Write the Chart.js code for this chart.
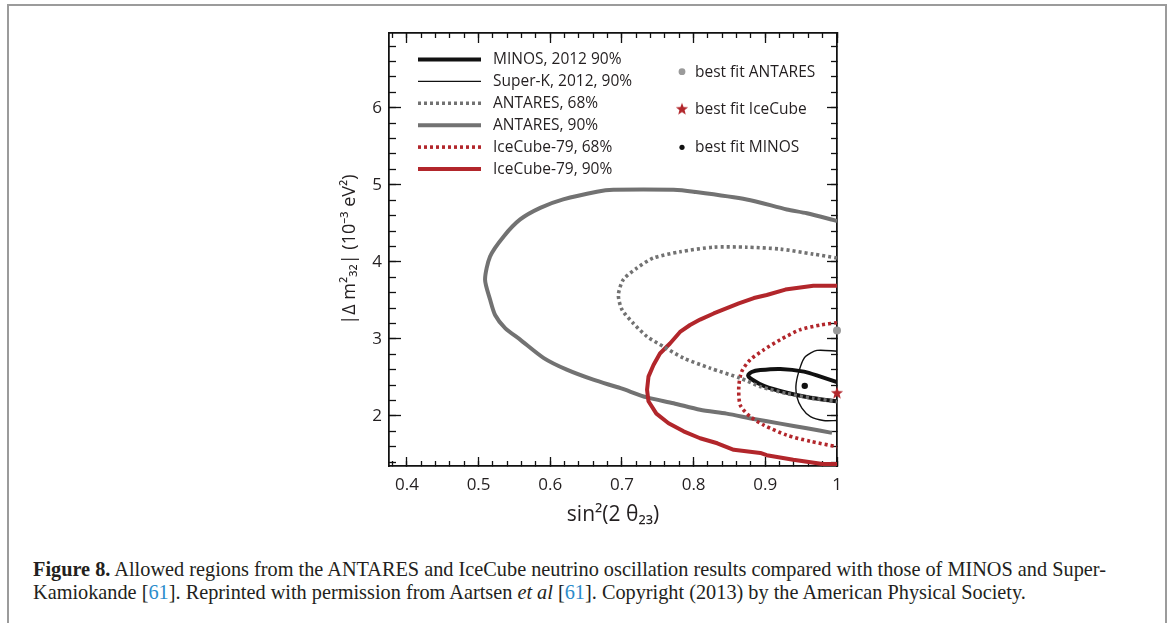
<!DOCTYPE html>
<html><head><meta charset="utf-8">
<script src="https://cdn.jsdelivr.net/npm/chart.js@4.4.1/dist/chart.umd.min.js"></script>
<style>
html,body{margin:0;padding:0;background:#fff;width:1171px;height:623px;overflow:hidden;}
#frame{position:absolute;left:7px;top:4px;width:1156px;height:700px;border:2px solid #9b9b9b;border-bottom:none;}
#wrap{position:absolute;left:0;top:0;width:1171px;height:540px;}
#caption{position:absolute;left:33px;top:558px;font-family:"Liberation Serif",serif;font-size:20.3px;line-height:23px;color:#231f20;white-space:nowrap;}
#caption .ref{color:#2b8ccb;}
</style></head><body>
<div id="frame"></div>
<div id="wrap"><canvas id="c" width="1171" height="540"></canvas></div>
<div id="caption"><b>Figure 8.</b> Allowed regions from the ANTARES and IceCube neutrino oscillation results compared with those of MINOS and Super-<br>Kamiokande [<span class="ref">61</span>]. Reprinted with permission from Aartsen <i>et al</i> [<span class="ref">61</span>]. Copyright (2013) by the American Physical Society.</div>
<script>
// ---------------- data ----------------
const seriesNames = ['MINOS, 2012 90%', 'Super-K, 2012, 90%', 'ANTARES, 68%', 'ANTARES, 90%', 'IceCube-79, 68%', 'IceCube-79, 90%'];

const minosX = [1.0, 0.977, 0.954, 0.921, 0.893, 0.881, 0.876, 0.882, 0.898, 0.930, 0.963, 0.991, 1.0];
const minosY = [2.44, 2.51, 2.575, 2.61, 2.595, 2.57, 2.525, 2.47, 2.39, 2.30, 2.235, 2.20, 2.19];

const superKX = [1.0, 0.972, 0.956, 0.949, 0.943, 0.944, 0.951, 0.963, 0.981, 1.0];
const superKY = [2.84, 2.85, 2.77, 2.64, 2.42, 2.25, 2.10, 1.99, 1.94, 1.94];

const antares68X = [1.0, 0.967, 0.921, 0.874, 0.828, 0.781, 0.744, 0.721, 0.702, 0.695, 0.700, 0.716, 0.735, 0.758, 0.786, 0.823, 0.865, 0.893, 0.930, 0.967, 1.0];
const antares68Y = [4.05, 4.10, 4.165, 4.19, 4.19, 4.13, 4.05, 3.92, 3.77, 3.57, 3.38, 3.20, 3.03, 2.90, 2.75, 2.62, 2.49, 2.38, 2.29, 2.23, 2.185];

const antares90X = [1.0, 0.958, 0.930, 0.874, 0.800, 0.772, 0.688, 0.665, 0.618, 0.586, 0.558, 0.535, 0.516, 0.509, 0.516, 0.523, 0.537, 0.558, 0.591, 0.623, 0.660, 0.698, 0.735, 0.772, 0.809, 0.846, 0.884, 0.921, 0.958, 0.993];
const antares90Y = [4.53, 4.63, 4.68, 4.81, 4.91, 4.935, 4.935, 4.91, 4.81, 4.70, 4.55, 4.33, 4.07, 3.77, 3.51, 3.31, 3.14, 2.99, 2.75, 2.60, 2.47, 2.36, 2.24, 2.165, 2.08, 2.03, 1.96, 1.90, 1.84, 1.78];

const icecube68X = [1.0, 0.977, 0.949, 0.921, 0.898, 0.879, 0.867, 0.863, 0.865, 0.879, 0.898, 0.930, 0.963, 1.0];
const icecube68Y = [3.21, 3.18, 3.12, 2.99, 2.86, 2.73, 2.575, 2.38, 2.14, 1.99, 1.88, 1.75, 1.67, 1.60];

const icecube90X = [1.0, 0.967, 0.928, 0.902, 0.884, 0.863, 0.828, 0.809, 0.795, 0.781, 0.767, 0.753, 0.744, 0.737, 0.735, 0.737, 0.748, 0.765, 0.786, 0.809, 0.833, 0.856, 0.893, 0.902, 0.939, 0.980, 1.0];
const icecube90Y = [3.69, 3.69, 3.64, 3.57, 3.53, 3.46, 3.33, 3.25, 3.18, 3.09, 2.94, 2.81, 2.66, 2.51, 2.34, 2.19, 2.03, 1.905, 1.80, 1.71, 1.645, 1.56, 1.52, 1.49, 1.43, 1.375, 1.375];

const bestFitNames = ['best fit ANTARES', 'best fit IceCube', 'best fit MINOS'];
const bestFitX = [1.0, 1.0, 0.955];
const bestFitY = [3.11, 2.30, 2.39];

const xTickValues = [0.4, 0.5, 0.6, 0.7, 0.8, 0.9, 1.0];
const xTickLabels = ['0.4', '0.5', '0.6', '0.7', '0.8', '0.9', '1'];
const yTickValues = [2, 3, 4, 5, 6];
const yTickLabels = ['2', '3', '4', '5', '6'];
const xMinorStep = 0.02;
const yMinorStep = 0.2;
const xTitle = 'sin²(2 θ₂₃)';
const yTitle = '|Δ m²₃₂| (10⁻³ eV²)';

const X_MIN = 0.375, X_MAX = 1.0, Y_MIN = 1.35, Y_MAX = 6.97;

// ---------------- styles ----------------
const GREY = '#727272', RED = '#b2262b', BLACK = '#111111';
const FONT = '"Open Sans", "Noto Sans", sans-serif';
const TXT = '#231f20';

function pts(xs, ys) { return xs.map((x, i) => ({x: x, y: ys[i]})); }

// filled star image for IceCube best fit
const star = document.createElement('canvas');
star.width = 14; star.height = 14;
(function () {
  const g = star.getContext('2d');
  g.beginPath();
  for (let k = 0; k < 10; k++) {
    const r = k % 2 === 0 ? 6.4 : 2.7;
    const a = -Math.PI / 2 + k * Math.PI / 5;
    const px = 7 + r * Math.cos(a), py = 7.5 + r * Math.sin(a);
    if (k === 0) g.moveTo(px, py); else g.lineTo(px, py);
  }
  g.closePath();
  g.fillStyle = RED;
  g.fill();
})();

const lineStyles = [
  {color: BLACK, width: 4, dash: []},
  {color: BLACK, width: 1.4, dash: []},
  {color: GREY, width: 3.6, dash: [3, 3]},
  {color: GREY, width: 4, dash: []},
  {color: RED, width: 3.6, dash: [3, 3]},
  {color: RED, width: 4, dash: []}
];
const lineData = [
  pts(minosX, minosY), pts(superKX, superKY), pts(antares68X, antares68Y),
  pts(antares90X, antares90Y), pts(icecube68X, icecube68Y), pts(icecube90X, icecube90Y)
];

const datasets = [];
// best-fit markers (on top)
const markerStyles = [
  {style: 'circle', radius: 4, color: '#9a9a9a'},
  {style: star, radius: 6, color: RED},
  {style: 'circle', radius: 3.2, color: BLACK}
];
bestFitNames.forEach((n, i) => {
  datasets.push({
    label: n, data: [{x: bestFitX[i], y: bestFitY[i]}], showLine: false,
    pointStyle: markerStyles[i].style, pointRadius: markerStyles[i].radius,
    backgroundColor: markerStyles[i].color, borderColor: markerStyles[i].color, borderWidth: 0,
    clip: false, order: 0, xAxisID: 'x', yAxisID: 'y'
  });
});
const orderMap = {0: 3, 1: 2, 2: 1, 3: 6, 4: 4, 5: 5};
seriesNames.forEach((n, i) => {
  datasets.push({
    label: n, data: lineData[i], showLine: true, pointRadius: 0,
    borderColor: lineStyles[i].color, borderWidth: lineStyles[i].width,
    borderDash: lineStyles[i].dash, borderCapStyle: 'butt', borderJoinStyle: 'round',
    tension: i === 5 ? 0 : 0.25, fill: false, order: orderMap[i],
    xAxisID: 'x', yAxisID: 'y'
  });
});

// ---------------- axes ----------------
function setTicks(vals) { return s => { s.ticks = vals.map(v => ({value: v})); }; }
function labelOf(vals, labels) {
  return v => { const i = vals.findIndex(t => Math.abs(t - v) < 1e-9); return i >= 0 ? labels[i] : ''; };
}
const border = {color: BLACK, width: 1.5};
function gridOpt(len) { return {drawOnChartArea: false, drawTicks: true, tickLength: -len, tickWidth: 1.3, tickColor: BLACK}; }
const tickFont = {family: FONT, size: 17};

const scales = {
  x: {
    type: 'linear', axis: 'x', position: 'bottom', min: X_MIN, max: X_MAX, weight: 1,
    afterBuildTicks: setTicks(xTickValues),
    ticks: {autoSkip: false, maxRotation: 0, padding: 18, font: tickFont, color: TXT, callback: labelOf(xTickValues, xTickLabels)},
    grid: gridOpt(9), border: border,
    title: {display: true, text: xTitle, font: {family: FONT, size: 21}, color: TXT, padding: 0},
    afterFit: s => { s.height = 62; }
  },
  xMinor: {
    type: 'linear', axis: 'x', position: 'bottom', min: X_MIN, max: X_MAX, weight: 0,
    ticks: {display: false, stepSize: xMinorStep, includeBounds: false, autoSkip: false},
    grid: gridOpt(5), border: border, afterFit: s => { s.height = 0; }
  },
  xTop: {
    type: 'linear', axis: 'x', position: 'top', min: X_MIN, max: X_MAX, weight: 0,
    afterBuildTicks: setTicks(xTickValues),
    ticks: {display: false, autoSkip: false},
    grid: gridOpt(10), border: border, afterFit: s => { s.height = 0; }
  },
  xTopMinor: {
    type: 'linear', axis: 'x', position: 'top', min: X_MIN, max: X_MAX, weight: 0,
    ticks: {display: false, stepSize: xMinorStep, includeBounds: false, autoSkip: false},
    grid: gridOpt(5), border: border, afterFit: s => { s.height = 0; }
  },
  y: {
    type: 'linear', axis: 'y', position: 'left', min: Y_MIN, max: Y_MAX, weight: 1,
    afterBuildTicks: setTicks(yTickValues),
    ticks: {autoSkip: false, padding: 19, font: tickFont, color: TXT, callback: labelOf(yTickValues, yTickLabels)},
    grid: gridOpt(12), border: border,
    title: {display: true, text: yTitle, font: {family: FONT, size: 18}, color: TXT, padding: 0},
    afterFit: s => { s.width = 50; }
  },
  yMinor: {
    type: 'linear', axis: 'y', position: 'left', min: Y_MIN, max: Y_MAX, weight: 0,
    ticks: {display: false, stepSize: yMinorStep, includeBounds: false, autoSkip: false},
    grid: gridOpt(7), border: border, afterFit: s => { s.width = 0; }
  },
  yRight: {
    type: 'linear', axis: 'y', position: 'right', min: Y_MIN, max: Y_MAX, weight: 0,
    afterBuildTicks: setTicks(yTickValues),
    ticks: {display: false, autoSkip: false},
    grid: gridOpt(10), border: border, afterFit: s => { s.width = 0; }
  },
  yRightMinor: {
    type: 'linear', axis: 'y', position: 'right', min: Y_MIN, max: Y_MAX, weight: 0,
    ticks: {display: false, stepSize: yMinorStep, includeBounds: false, autoSkip: false},
    grid: gridOpt(6), border: border, afterFit: s => { s.width = 0; }
  }
};

// ---------------- legend ----------------
const legendPlugin = {
  id: 'insideLegend',
  afterDraw(chart) {
    const ctx = chart.ctx, a = chart.chartArea;
    ctx.save();
    ctx.font = '15.5px ' + FONT;
    ctx.fillStyle = TXT;
    ctx.textBaseline = 'middle';
    ctx.textAlign = 'left';
    seriesNames.forEach((n, i) => {
      const y = a.top + 26.5 + i * 21.9;
      const st = lineStyles[i];
      ctx.beginPath();
      ctx.strokeStyle = st.color; ctx.lineWidth = st.width; ctx.setLineDash(st.dash); ctx.lineCap = 'butt';
      ctx.moveTo(a.left + 29, y); ctx.lineTo(a.left + 92, y); ctx.stroke();
      ctx.setLineDash([]);
      ctx.fillText(n, a.left + 104, y + 0.5);
    });
    const rows = [38.7, 76.3, 114.3];
    bestFitNames.forEach((n, i) => {
      const y = a.top + rows[i], x = a.left + 293;
      const m = markerStyles[i];
      if (m.style === 'circle') {
        ctx.beginPath(); ctx.fillStyle = m.color; ctx.arc(x, y, m.radius - 0.6, 0, Math.PI * 2); ctx.fill();
      } else {
        ctx.drawImage(m.style, x - 7, y - 7.5);
      }
      ctx.fillStyle = TXT;
      ctx.fillText(n, a.left + 306, y + 0.5);
    });
    ctx.restore();
  }
};

new Chart(document.getElementById('c'), {
  type: 'scatter',
  data: {datasets: datasets},
  options: {
    responsive: false, animation: false, devicePixelRatio: 1,
    layout: {padding: {left: 339, right: 334, top: 33, bottom: 12}},
    plugins: {legend: {display: false}, tooltip: {enabled: false}},
    scales: scales
  },
  plugins: [legendPlugin]
});
</script>
</body></html>
